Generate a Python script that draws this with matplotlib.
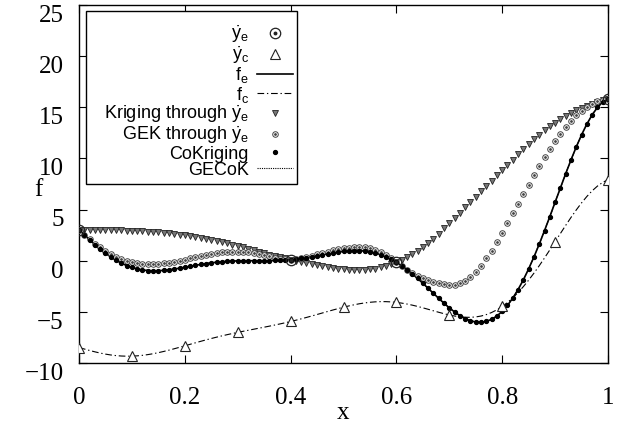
import numpy as np
import matplotlib
matplotlib.use("Agg")
import matplotlib.pyplot as plt
import matplotlib.transforms as mtransforms
from matplotlib.patches import Rectangle
from matplotlib.legend_handler import HandlerTuple

plt.rcParams['font.family'] = ['Liberation Serif', 'DejaVu Serif']
plt.rcParams['mathtext.fontset'] = 'custom'
plt.rcParams['mathtext.rm'] = 'Liberation Sans'
plt.rcParams['mathtext.it'] = 'Liberation Sans:italic'
plt.rcParams['mathtext.sf'] = 'Liberation Sans'

# ---- data ----
x_fine = np.linspace(0.0, 1.0, 101)

y_fe = [3.027, 2.533, 2.049, 1.583, 1.144, 0.738, 0.371, 0.046, -0.234, -0.469,
        -0.657, -0.800, -0.900, -0.961, -0.985, -0.978, -0.944, -0.888, -0.816, -0.731,
        -0.640, -0.545, -0.452, -0.364, -0.282, -0.210, -0.149, -0.099, -0.061, -0.034,
        -0.016, -0.005, -0.001, 0.000, 0.000, 0.002, 0.008, 0.021, 0.042, 0.073,
        0.115, 0.168, 0.233, 0.308, 0.392, 0.483, 0.577, 0.671, 0.761, 0.842,
        0.909, 0.958, 0.984, 0.981, 0.944, 0.871, 0.758, 0.600, 0.397, 0.146,
        -0.150, -0.489, -0.870, -1.287, -1.736, -2.209, -2.698, -3.192, -3.682, -4.158,
        -4.606, -5.014, -5.369, -5.658, -5.870, -5.993, -6.017, -5.933, -5.728, -5.402,
        -4.949, -4.367, -3.656, -2.820, -1.865, -0.799, 0.367, 1.619, 2.940, 4.312,
        5.712, 7.118, 8.506, 9.852, 11.126, 12.303, 13.357, 14.260, 14.988, 15.519,
        15.830]

y_fc = [-8.486, -8.633, -8.775, -8.908, -9.028, -9.131, -9.214, -9.277, -9.317, -9.335,
        -9.329, -9.300, -9.250, -9.181, -9.093, -8.989, -8.872, -8.744, -8.608, -8.466,
        -8.320, -8.173, -8.026, -7.882, -7.741, -7.605, -7.475, -7.350, -7.231, -7.117,
        -7.008, -6.903, -6.800, -6.700, -6.600, -6.499, -6.396, -6.289, -6.179, -6.063,
        -5.942, -5.816, -5.683, -5.546, -5.404, -5.258, -5.111, -4.964, -4.819, -4.679,
        -4.545, -4.421, -4.308, -4.209, -4.128, -4.064, -4.021, -4.000, -4.001, -4.027,
        -4.075, -4.145, -4.235, -4.344, -4.468, -4.605, -4.749, -4.896, -5.041, -5.179,
        -5.303, -5.407, -5.485, -5.529, -5.535, -5.497, -5.409, -5.267, -5.064, -4.801,
        -4.475, -4.084, -3.628, -3.110, -2.533, -1.900, -1.216, -0.490, 0.270, 1.056,
        1.856, 2.659, 3.453, 4.226, 4.963, 5.652, 6.279, 6.830, 7.294, 7.660,
        7.915]

y_kriging = [3.03, 3.03, 3.02, 3.02, 3.01, 3.00, 2.99, 2.98, 2.97, 2.95,
             2.93, 2.91, 2.88, 2.85, 2.81, 2.77, 2.72, 2.67, 2.61, 2.55,
             2.48, 2.40, 2.32, 2.23, 2.14, 2.04, 1.93, 1.82, 1.70, 1.58,
             1.45, 1.31, 1.17, 1.02, 0.87, 0.72, 0.58, 0.45, 0.34, 0.22,
             0.11, 0.00, -0.11, -0.22, -0.33, -0.43, -0.53, -0.62, -0.70, -0.77,
             -0.83, -0.88, -0.91, -0.92, -0.90, -0.85, -0.77, -0.66, -0.52, -0.35,
             -0.15, 0.08, 0.34, 0.63, 0.95, 1.30, 1.69, 2.15, 2.65, 3.16,
             3.67, 4.18, 4.70, 5.22, 5.74, 6.26, 6.78, 7.30, 7.82, 8.34,
             8.86, 9.38, 9.89, 10.40, 10.90, 11.39, 11.86, 12.31, 12.74, 13.14,
             13.51, 13.86, 14.18, 14.47, 14.73, 14.96, 15.17, 15.36, 15.53, 15.69,
             15.83]

y_gek = [3.03, 2.55, 2.10, 1.68, 1.30, 0.96, 0.66, 0.40, 0.18, 0.00,
         -0.14, -0.24, -0.30, -0.33, -0.33, -0.30, -0.25, -0.18, -0.09, 0.00,
         0.10, 0.22, 0.34, 0.46, 0.57, 0.67, 0.76, 0.83, 0.88, 0.90,
         0.90, 0.88, 0.83, 0.76, 0.67, 0.56, 0.42, 0.30, 0.19, 0.12,
         0.11, 0.16, 0.26, 0.37, 0.49, 0.62, 0.75, 0.88, 1.00, 1.11,
         1.21, 1.28, 1.32, 1.33, 1.30, 1.22, 1.09, 0.86, 0.57, 0.22,
         -0.15, -0.52, -0.87, -1.18, -1.46, -1.70, -1.91, -2.08, -2.21, -2.31,
         -2.38, -2.36, -2.22, -1.96, -1.58, -1.08, -0.47, 0.22, 0.98, 1.84,
         2.75, 3.68, 4.62, 5.55, 6.50, 7.45, 8.38, 9.26, 10.10, 10.90,
         11.66, 12.38, 13.05, 13.66, 14.20, 14.66, 15.04, 15.34, 15.57, 15.73,
         15.83]

# CoKriging and GECoK predictions coincide visually with f_e
y_cokriging = list(y_fe)
y_gecok = list(y_fe)

x_e = [0.0, 0.4, 0.6, 1.0]
y_e = [3.027, 0.115, -0.150, 15.830]

x_c = [0.0, 0.1, 0.2, 0.3, 0.4, 0.5, 0.6, 0.7, 0.8, 0.9, 1.0]
y_c = [-8.486, -9.329, -8.320, -7.008, -5.942, -4.545, -4.075, -5.303, -4.475, 1.856, 7.915]

x_ticks = [0, 0.2, 0.4, 0.6, 0.8, 1]
x_ticklabels = ['0', '0.2', '0.4', '0.6', '0.8', '1']
y_ticks = [-10, -5, 0, 5, 10, 15, 20, 25]
y_ticklabels = ['\u221210', '\u22125', '0', '5', '10', '15', '20', '25']

# ---- figure ----
fig = plt.figure(figsize=(6.25, 4.3), dpi=100)
ax = fig.add_axes([79/625, 1-363/430, 529/625, 358/430])

ye_ring, = ax.plot(x_e, y_e, linestyle='none', marker='o', markersize=7.5,
                   markerfacecolor='none', markeredgecolor='#222222',
                   markeredgewidth=0.9, zorder=6)
ye_dot, = ax.plot(x_e, y_e, linestyle='none', marker='o', markersize=1.8,
                  color='#222222', zorder=6)
h_yc, = ax.plot(x_c, y_c, linestyle='none', marker='^', markersize=6.5,
                markerfacecolor='white', markeredgecolor='#222222', markeredgewidth=0.8,
                zorder=5)
h_fe, = ax.plot(x_fine, y_fe, color='black', linewidth=1.2, zorder=2)
h_fc, = ax.plot(x_fine, y_fc, color='black', linewidth=0.8, dashes=(6, 2.5, 1.2, 2.5),
                zorder=2)
h_kr, = ax.plot(x_fine, y_kriging, linestyle='none', marker='v', markersize=3.8,
                markerfacecolor='#777777', markeredgecolor='#222222', markeredgewidth=0.6,
                zorder=3)
gek_ring, = ax.plot(x_fine, y_gek, linestyle='none', marker='o', markersize=4.0,
                    markerfacecolor='white', markeredgecolor='#444444',
                    markeredgewidth=0.7, zorder=3)
gek_dot, = ax.plot(x_fine, y_gek, linestyle='none', marker='o', markersize=1.0,
                   color='#444444', zorder=3)
h_ck, = ax.plot(x_fine, y_cokriging, linestyle='none', marker='o', markersize=2.8,
                color='black', zorder=4)
h_gc, = ax.plot(x_fine, y_gecok, color='black', linewidth=0.8, linestyle=(0, (1, 1)),
                zorder=4)

ax.set_xlim(0, 1)
ax.set_ylim(-10, 25)
ax.set_xticks(x_ticks)
ax.set_xticklabels(x_ticklabels)
ax.set_yticks(y_ticks)
ax.set_yticklabels(y_ticklabels)
ax.tick_params(direction='in', length=6, width=0.8, top=True, right=True,
               labelsize=18)
ax.tick_params(axis='x', pad=17)
ax.tick_params(axis='y', pad=11)
for s in ax.spines.values():
    s.set_linewidth(1.0)

off = mtransforms.ScaledTranslation(0, -6/72, fig.dpi_scale_trans)
for lab in ax.get_yticklabels():
    lab.set_transform(lab.get_transform() + off)

fig.text(38/625, 1-190/430, 'f', fontsize=18, ha='center', va='center')
fig.text(343/625, 1-413/430, 'x', fontsize=18, ha='center', va='center')

# legend box (gnuplot style, fixed frame)
bx0, bx1 = 7/529, 218/529
by0, by1 = 1-179/358, 1-6/358
ax.add_patch(Rectangle((bx0, by0), bx1-bx0, by1-by0, transform=ax.transAxes,
                       facecolor='white', edgecolor='black', linewidth=1.0, zorder=9))

handles = [(ye_ring, ye_dot), h_yc, h_fe, h_fc, h_kr, (gek_ring, gek_dot), h_ck, h_gc]
labels = [r'$\dot{\mathrm{y}}_{\mathrm{e}}$', r'$\dot{\mathrm{y}}_{\mathrm{c}}$',
          r'$\mathrm{f}_{\mathrm{e}}$', r'$\mathrm{f}_{\mathrm{c}}$',
          r'Kriging through $\dot{\mathrm{y}}_{\mathrm{e}}$',
          r'GEK through $\dot{\mathrm{y}}_{\mathrm{e}}$', 'CoKriging', 'GECoK']
leg = ax.legend(handles, labels, handler_map={tuple: HandlerTuple(ndivide=1, pad=0)},
                loc='upper right', bbox_to_anchor=(bx1 - 4/529, by1 - 13/358),
                markerfirst=False, frameon=False, borderaxespad=0, borderpad=0.0,
                labelspacing=-0.04, handlelength=2.0, handletextpad=0.45,
                prop={'family': ['Liberation Sans', 'DejaVu Sans'], 'size': 13})
leg.set_zorder(10)

fig.savefig('out.png', dpi=100)
